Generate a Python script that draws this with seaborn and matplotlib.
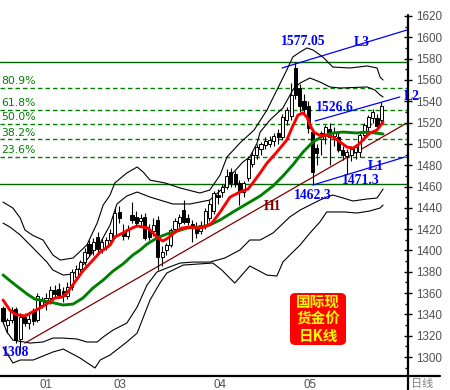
import matplotlib
matplotlib.use("Agg")
import matplotlib.pyplot as plt
import seaborn as sns
import pandas as pd
from matplotlib.patches import FancyBboxPatch
from matplotlib.lines import Line2D

sns.set_style("white")
plt.rcParams['font.family'] = ['Liberation Sans', 'Noto Sans CJK SC', 'DejaVu Sans']

# ---------------- data ----------------
opens = [1346, 1330, 1335, 1345, 1317, 1338, 1332, 1343, 1335, 1349,
         1352, 1355, 1363, 1364, 1362, 1357, 1366, 1375, 1383, 1389,
         1406, 1400, 1413, 1401, 1403, 1410, 1414, 1436, 1417, 1414,
         1433, 1431, 1428, 1431, 1419, 1418, 1429, 1394, 1400, 1405,
         1420, 1426, 1438, 1430, 1425, 1421, 1418, 1423, 1430, 1437,
         1452, 1455, 1460, 1474, 1472, 1463, 1455, 1468, 1481, 1490,
         1495, 1499, 1500, 1503, 1510, 1506, 1522, 1526, 1571, 1552,
         1540, 1536, 1511, 1496, 1505, 1508, 1514, 1507, 1506, 1494,
         1489, 1490, 1492, 1492, 1508, 1516, 1524, 1524, 1522]
highs = [1348, 1337, 1347, 1347, 1341, 1341, 1342, 1346, 1360, 1356,
         1360, 1367, 1368, 1369, 1366, 1370, 1383, 1386, 1391, 1402,
         1410, 1412, 1417, 1412, 1413, 1420, 1440, 1442, 1425, 1424,
         1445, 1437, 1434, 1435, 1425, 1430, 1432, 1404, 1407, 1421,
         1430, 1434, 1447, 1434, 1429, 1427, 1428, 1440, 1447, 1456,
         1458, 1462, 1476, 1477, 1475, 1466, 1465, 1489, 1492, 1500,
         1502, 1506, 1507, 1510, 1514, 1528, 1535, 1557, 1577.05, 1556,
         1547, 1540, 1514, 1500, 1512, 1518, 1520, 1516, 1512, 1498,
         1495, 1498, 1500, 1512, 1520, 1527, 1533, 1528, 1539]
lows = [1331, 1323, 1332, 1313, 1308, 1329, 1326, 1330, 1333, 1346,
        1344, 1350, 1355, 1355, 1352, 1354, 1363, 1372, 1380, 1386,
        1395, 1396, 1398, 1398, 1400, 1407, 1412, 1426, 1410, 1411,
        1426, 1424, 1422, 1410, 1410, 1414, 1382, 1385, 1396, 1403,
        1416, 1422, 1425, 1424, 1408, 1412, 1415, 1420, 1428, 1434,
        1444, 1450, 1458, 1460, 1460, 1443, 1450, 1465, 1478, 1486,
        1490, 1495, 1497, 1498, 1500, 1504, 1518, 1522, 1542, 1530,
        1528, 1510, 1462.3, 1480, 1490, 1500, 1480, 1498, 1492, 1485,
        1471.3, 1484, 1486, 1488, 1504, 1512, 1520, 1514, 1520]
closes = [1334, 1335, 1344, 1316, 1338, 1332, 1336, 1334, 1357, 1353,
          1355, 1363, 1359, 1358, 1357, 1366, 1380, 1383, 1389, 1399,
          1398, 1408, 1401, 1408, 1410, 1416, 1435, 1430, 1414, 1420,
          1429, 1426, 1430, 1412, 1413, 1424, 1394, 1399, 1405, 1419,
          1428, 1431, 1427, 1427, 1422, 1416, 1424, 1437, 1444, 1454,
          1450, 1460, 1470, 1463, 1462, 1455, 1463, 1486, 1490, 1497,
          1500, 1503, 1504, 1507, 1506, 1525, 1532, 1546, 1546, 1536,
          1533, 1515, 1474, 1491, 1510, 1516, 1506, 1510, 1494, 1490,
          1492, 1495, 1497, 1508, 1518, 1525, 1530, 1517, 1536]

# moving averages (red = short, green = long), read at sample bars
ma_red_x = [0, 1.6, 2.8, 5.1, 6.7, 8.6, 10.5, 12.1, 13.7, 14.9, 16.3, 18.6, 20.7,
            22.6, 24.9, 26, 27.9, 30, 31.2, 33.7, 34.9, 36, 37.2, 38.4, 40, 41.6,
            43.5, 45.1, 47, 48.6, 50.5, 52.8, 55.1, 57, 58.1, 59.8, 61.4, 63.7,
            66, 67.4, 68.6, 69.8, 70.7, 71.4, 72.3, 73.7, 75.3, 76.7, 78.4, 80,
            81.4, 82.6, 83.7, 85.3, 87, 88.4]
ma_red_v = [1353.5, 1344, 1340, 1338.5, 1342, 1346, 1350.7, 1355.4, 1356.3, 1360,
            1368, 1381, 1390, 1398.5, 1405, 1412.6, 1416.4, 1421, 1423, 1421,
            1416.4, 1411.7, 1408.9, 1411.7, 1417.3, 1421, 1422, 1421, 1422,
            1425.8, 1436, 1450, 1454.8, 1457.7, 1463.3, 1472.7, 1482, 1492.4,
            1503.6, 1516.8, 1527, 1529, 1525, 1517.7, 1511, 1508, 1508, 1506.5,
            1501.8, 1497, 1496, 1499, 1503.6, 1510, 1513, 1520.5]
ma_green_x = [0, 2.3, 5.6, 7.4, 10.9, 14, 16.3, 18.6, 20.9, 23.3, 25.6, 27.9, 30.2,
              31.9, 33.5, 35.8, 38.1, 40.5, 42.8, 45.8, 48.1, 50.5, 53.5, 57.4,
              59.8, 62.8, 65.1, 67.4, 69.8, 72.1, 74.4, 76.7, 79.1, 82.3, 84.7, 88.4]
ma_green_v = [1377, 1369.4, 1359.1, 1354.4, 1351.6, 1348.8, 1349.7, 1355.4, 1364.7,
              1372.2, 1380.7, 1387.3, 1395.7, 1400.4, 1406, 1411.7, 1415.4, 1418.2,
              1421, 1422, 1423.9, 1428.6, 1436.1, 1445.4, 1451.1, 1460.5, 1469.8,
              1480.2, 1492.4, 1501.8, 1507.4, 1510.2, 1511.1, 1510.2, 1511.1, 1509.3]

# band lines
band_uo_x = [0, 2.3, 4, 5.1, 7, 9.3, 11.6, 13.3, 16.3, 19.5, 21.9, 23.3, 24.9, 26,
             28.8, 31.2, 32.6, 34.2, 37.7, 41.2, 45.8, 48.1, 50.5, 52.1, 55.1, 58.4,
             61.4, 63.7, 66, 67.4, 69.1, 70.7, 72.1, 74.4, 76.7, 80.7, 84.7, 87,
             87.7, 88.4]
band_uo_v = [1445.4, 1439.8, 1430.4, 1419.2, 1414, 1409.8, 1395.7, 1391, 1392.9,
             1405.1, 1425.7, 1442.6, 1452, 1463.3, 1472.7, 1478.3, 1473.6, 1466,
             1463.3, 1458.6, 1453.9, 1456.7, 1470.8, 1487.7, 1500.8, 1513, 1531.8,
             1550.5, 1569.3, 1581.5, 1586.2, 1590, 1588.1, 1581.5, 1572.1, 1571.2,
             1573.1, 1571.2, 1562.7, 1559.9]
band_ui_x = [0, 1.6, 4, 7, 10.2, 11.6, 14, 16.3, 18.6, 20.9, 22.6, 24.9, 26.5, 28.8,
             31.2, 34.2, 39.5, 43.5, 48.1, 51.2, 53.5, 55.8, 57.4, 59.1, 59.8, 62.1,
             65.1, 67.4, 69.1, 71.4, 73.7, 76, 78.4, 84.7, 86.5, 87.7, 88.4]
band_ui_v = [1425.7, 1422, 1414.5, 1402.3, 1389.1, 1381.6, 1376.9, 1377.9, 1386.3,
             1398.5, 1407, 1423.9, 1443.6, 1451.1, 1454.8, 1450.1, 1443.6, 1443.6,
             1447.3, 1458.6, 1472.7, 1483, 1487.7, 1500.8, 1511.1, 1522.4, 1533.7,
             1550.5, 1557.1, 1561.8, 1558.1, 1553.4, 1552.4, 1553.4, 1550.5, 1545.9,
             1544]
band_li_x = [0, 0.9, 2.3, 6.3, 9.3, 11.6, 14, 17.2, 19.5, 21.9, 23.3, 25.6, 28.8,
             31.2, 33.5, 35.8, 38.1, 41.2, 44.2, 48.1, 51.6, 55.1, 57.4, 59.8, 62.8,
             66.7, 69.1, 71.4, 73.7, 75.3, 76.7, 79.1, 81.4, 84.7, 87, 88.4]
band_li_v = [1332.8, 1323.5, 1315.9, 1313.1, 1314.1, 1317.8, 1317.8, 1316.9, 1314.1,
             1314.1, 1318.8, 1325.3, 1331.9, 1346.9, 1367.6, 1379.8, 1383.5, 1388.2,
             1389.1, 1389.1, 1392.9, 1400.4, 1409.8, 1409.8, 1416.4, 1431.4, 1437.9,
             1442.6, 1447.3, 1450.1, 1452, 1449.2, 1446.4, 1448.3, 1449.2, 1457.6]
band_lo_x = [0, 2.3, 4, 7, 11.6, 14, 17.9, 21.4, 22.6, 24.9, 28.8, 31.2, 34.2, 36.5,
             38.1, 41.9, 48.8, 50.9, 53.9, 57.4, 61.4, 63.7, 65.1, 66.7, 69.1, 71.4,
             73.7, 75.3, 77.2, 79.5, 82.3, 85.3, 87.7, 88.4]
band_lo_v = [1309.4, 1294.4, 1297.2, 1297.2, 1304.7, 1307.5, 1299.1, 1289.7, 1297.2,
             1301.9, 1314.1, 1322.5, 1353.5, 1369.4, 1378.8, 1386.3, 1388.2, 1381.6,
             1369.4, 1385.4, 1376.9, 1376, 1389.1, 1395.7, 1405.1, 1416.4, 1426.7,
             1436.1, 1436.1, 1436.1, 1435.1, 1437, 1439.8, 1442.6]

# Fibonacci retracement levels
swing_high = 1577.05
swing_low = 1462.3
fib_labels = ["80.9%", "61.8%", "50.0%", "38.2%", "23.6%"]
fib_levels = [1552.4, 1531.8, 1518.6, 1504.3, 1488.0]

# trend lines (start, end)
L3_x, L3_y = [64.9, 94.0], [1571.2, 1606.9]
L2_x, L2_y = [72.6, 92.3], [1521.5, 1544.0]
L1_x, L1_y = [72.1, 93.5], [1461.4, 1487.7]
H1_x, H1_y = [5.1, 93.5], [1313.1, 1518.6]

month_pos = [25, 48.4, 69.3]
month_labels = ["03", "04", "05"]
first_label_pos = 8.4
first_label = "01"
week_pos = [9.3, 14.4, 19.8, 29.3, 34.4, 39.3, 44.2, 54.2, 59.1, 64, 74.2, 79, 84, 89.1]

# ---------------- figure ----------------
W, H = 450, 390
fig = plt.figure(figsize=(W / 100, H / 100), dpi=100)
ax = fig.add_axes([0, 1 - 376 / H, 408 / W, 376 / H])
ax.set_xlim(-0.7, 94.2)
ax.set_ylim(1282.2, 1635.0)
for s in ax.spines.values():
    s.set_visible(False)

# bands
for bx, bv in [(band_uo_x, band_uo_v), (band_ui_x, band_ui_v),
               (band_li_x, band_li_v), (band_lo_x, band_lo_v)]:
    sns.lineplot(x=bx, y=bv, ax=ax, color="black", linewidth=0.8,
                 estimator=None, sort=False, zorder=2)

# fib lines
ax.axhline(swing_high, color="#006400", lw=1.0, zorder=1)
ax.axhline(swing_low, color="#006400", lw=1.0, zorder=1)
for lab, lv in zip(fib_labels, fib_levels):
    ax.axhline(lv, color="#008000", lw=1.0, ls=(0, (3.2, 2.2)), zorder=1)
    ax.text(-0.35, lv + 1.6, lab, color="#008000", fontsize=7.8,
            ha="left", va="bottom", family=["DejaVu Sans"], zorder=6)

# candles
df = pd.DataFrame({"o": opens, "h": highs, "l": lows, "c": closes})
df["i"] = range(len(df))
ax.vlines(df["i"], df["l"], df["h"], color="black", lw=0.8, zorder=3)
bottoms = df[["o", "c"]].min(axis=1)
heights = (df["c"] - df["o"]).abs().clip(lower=0.6)
colors = ["white" if c >= o else "black" for o, c in zip(opens, closes)]
ax.bar(df["i"], heights, bottom=bottoms, width=0.72, color=colors,
       edgecolor="black", linewidth=0.7, zorder=4)

# moving averages
sns.lineplot(x=ma_green_x, y=ma_green_v, ax=ax, color="#008000", linewidth=2.1,
             estimator=None, sort=False, zorder=5)
sns.lineplot(x=ma_red_x, y=ma_red_v, ax=ax, color="#FF0000", linewidth=2.1,
             estimator=None, sort=False, zorder=5)

# trend lines
for tx, ty in [(L3_x, L3_y), (L2_x, L2_y), (L1_x, L1_y)]:
    ax.plot(tx, ty, color="#0000FF", lw=0.9, zorder=6, clip_on=False)
ax.plot(H1_x, H1_y, color="#800000", lw=0.9, zorder=2)

# annotations
lab_kw = dict(fontsize=9.8, fontweight="bold", family=["Liberation Serif"],
              ha="center", va="center", zorder=7)
ax.text(69.8, 1596.5, "1577.05", color="#0000FF", **lab_kw)
ax.text(83.5, 1594.7, "L3", color="#0000FF", **lab_kw)
ax.text(77.2, 1533.7, "1526.6", color="#0000FF", **lab_kw)
ax.text(95.0, 1544.9, "L2", color="#0000FF", clip_on=False, **lab_kw)
ax.text(86.7, 1479.2, "L1", color="#0000FF", **lab_kw)
ax.text(83.3, 1466.1, "1471.3", color="#0000FF", **lab_kw)
ax.text(72.1, 1451.1, "1462.3", color="#0000FF", **lab_kw)
ax.text(62.8, 1440.8, "H1", color="#800000", **lab_kw)
ax.text(3.0, 1304.7, "1308", color="#0000FF", **lab_kw)

# y axis (right)
ax.yaxis.tick_right()
ax.set_yticks(list(range(1300, 1621, 20)))
ax.set_yticks(list(range(1290, 1611, 20)), minor=True)
ax.tick_params(axis="y", which="major", direction="inout", length=6, width=1,
               color="black", labelcolor="#505050", labelsize=8.4, pad=3)
ax.tick_params(axis="y", which="minor", direction="in", length=2.5, width=1,
               color="black")
ax.set_ylabel("")

# x axis ticks
ax.set_xticks(month_pos)
ax.set_xticklabels([])
ax.set_xticks(week_pos, minor=True)
ax.tick_params(axis="x", which="major", direction="out", length=10, width=1,
               color="black")
ax.tick_params(axis="x", which="minor", direction="out", length=3.5, width=1,
               color="black")
xt = ax.get_xaxis_transform()
for p, lab in zip(month_pos, month_labels):
    ax.text(p + 0.6, -0.008, lab, transform=xt, ha="left", va="top",
            fontsize=8.4, color="#505050", clip_on=False)
ax.text(first_label_pos, -0.008, first_label, transform=xt, ha="left", va="top",
        fontsize=8.4, color="#505050", clip_on=False)

# axis lines
fig.add_artist(Line2D([408 / W, 408 / W], [0, 1 - 15 / H], color="black", lw=1.6,
                      transform=fig.transFigure))
fig.add_artist(Line2D([0, 440 / W], [1 - 376 / H, 1 - 376 / H], color="black",
                      lw=1.6, transform=fig.transFigure))
fig.text(411 / W, 1 - 384 / H, "日线", fontsize=8, color="#808080",
         family=["Noto Sans CJK SC"], va="center", ha="left")

# title box
box = FancyBboxPatch((290 / W, 1 - 345 / H), 56 / W, 52 / H,
                     boxstyle="round,pad=0,rounding_size=0.012",
                     transform=fig.transFigure, facecolor="#FF0000",
                     edgecolor="none", zorder=8)
fig.add_artist(box)
for k, line in enumerate(["国际现", "货金价", "日K线"]):
    fig.text(318 / W, 1 - (302 + 17 * k) / H, line, color="#FFFF00",
             fontsize=10.5, fontweight="bold", family=["Noto Sans CJK SC"],
             ha="center", va="center", zorder=9)

fig.savefig("out.png", dpi=100)
